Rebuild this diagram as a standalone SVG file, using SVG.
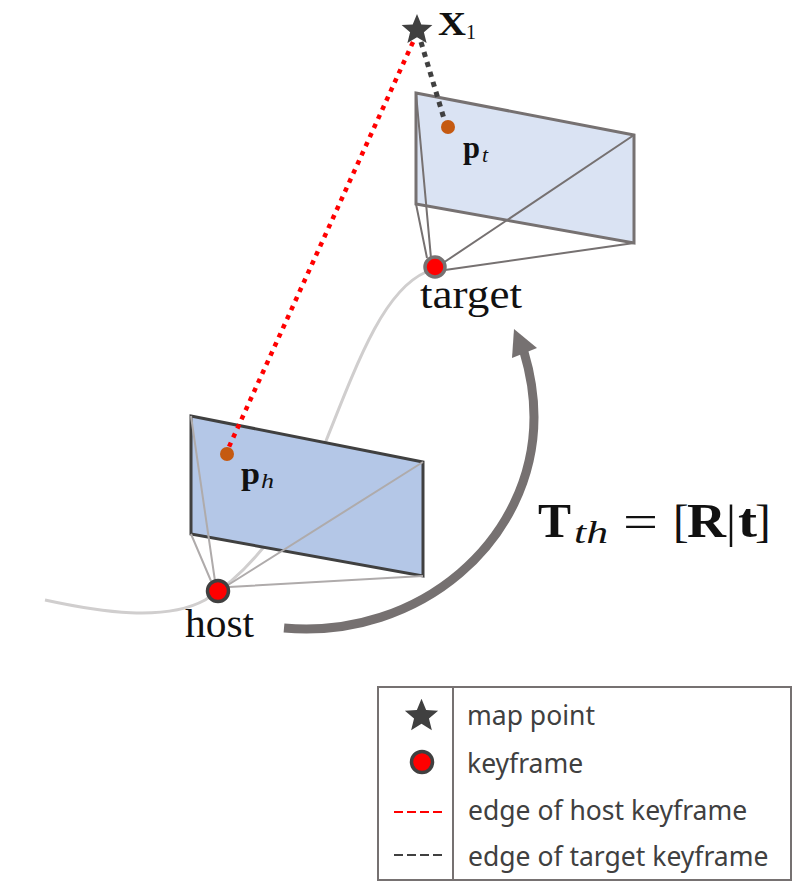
<svg xmlns="http://www.w3.org/2000/svg" width="797" height="890" viewBox="0 0 797 890">
<style>
.m{font-family:"Liberation Serif","Times New Roman",serif;fill:#111}
.b{font-weight:bold}
.i{font-style:italic}
.l{font-family:"Noto Sans","Open Sans",sans-serif;font-size:26.500px;fill:#404040}
.kf{fill:#f00;stroke-width:3.500}
.ray-t{stroke:#767171;stroke-width:2;fill:none}
.ray-h{stroke:#afabab;stroke-width:2;fill:none}
.pt{fill:#c55a11}
</style>
<defs>
<polygon id="star" points="0,-16 4.300,-5.600 15.400,-4.900 6.900,2.300 9.600,13.100 0,7.200 -9.600,13.100 -6.900,2.300 -15.400,-4.900 -4.300,-5.600" fill="#404040"/>
</defs>
<g id="connectors">
<path id="trajectory" d="M45,600 C100,612 165,622 205,600 C255,570 300,505 326,441 C360,355 385,290 426,272" fill="none" stroke="#d0cece" stroke-width="3"/>
</g>
<g id="target-frame">
<polygon points="416,93 634,135 634,243 416,204" fill="#dae3f3" stroke="#767171" stroke-width="3"/>
<path class="ray-t" d="M416,93 L431,258 M416,204 L427,258 M634,135 L443,263 M634,243 L445,270"/>
<circle class="kf" cx="435" cy="267" r="10" stroke="#767171"/>
<text class="m" x="420" y="308" font-size="40" textLength="102" lengthAdjust="spacingAndGlyphs">target</text>
</g>
<g id="host-frame">
<polygon points="191,416 423,462 423,576 191,534" fill="#b4c7e7" stroke="#404040" stroke-width="3"/>
<path class="ray-h" d="M191,416 L215,581 M191,534 L211,581 M423,462 L228,585 M423,576 L229,587"/>
<circle class="kf" cx="218" cy="591" r="10.500" stroke="#404040"/>
<text class="m" x="185" y="637" font-size="40" textLength="69" lengthAdjust="spacingAndGlyphs">host</text>
</g>
<g id="edges">
<line x1="413" y1="42" x2="228" y2="449" stroke="#f00" stroke-width="4.500" stroke-dasharray="4.500 5.500"/>
<line x1="421" y1="42" x2="445" y2="122" stroke="#404040" stroke-width="5" stroke-dasharray="5.200 5.200"/>
</g>
<g id="map-point">
<use href="#star" x="417" y="30"/>
<text class="m b" x="438" y="35" font-size="33" textLength="28" lengthAdjust="spacingAndGlyphs">X</text>
<text class="m" x="466" y="39" font-size="20">1</text>
</g>
<g id="point-t">
<circle class="pt" cx="448" cy="127" r="7"/>
<text class="m b" x="463" y="158" font-size="32" textLength="17" lengthAdjust="spacingAndGlyphs">p</text>
<text class="m i" x="482" y="162" font-size="22">t</text>
</g>
<g id="point-h">
<circle class="pt" cx="227" cy="454" r="7"/>
<text class="m b" x="241" y="484" font-size="32" textLength="19" lengthAdjust="spacingAndGlyphs">p</text>
<text class="m i" x="261" y="488" font-size="22" textLength="13" lengthAdjust="spacingAndGlyphs">h</text>
</g>
<g id="transform">
<path d="M284,628 C420,640 534,540 534,417 C534,395 530,372 524,352" fill="none" stroke="#767171" stroke-width="9"/>
<polygon points="514,329 537,348 512,358" fill="#767171"/>
<text class="m b" x="538" y="537" font-size="49" textLength="33" lengthAdjust="spacingAndGlyphs">T</text>
<text class="m i" x="574" y="543" font-size="31" textLength="34" lengthAdjust="spacingAndGlyphs">th</text>
<text class="m" x="623" y="537" font-size="47" textLength="35" lengthAdjust="spacingAndGlyphs">=</text>
<text class="m" x="673" y="537" font-size="47">[</text>
<text class="m b" x="687" y="537" font-size="49" textLength="39" lengthAdjust="spacingAndGlyphs">R</text>
<text class="m" x="726" y="537" font-size="47" textLength="10" lengthAdjust="spacingAndGlyphs">|</text>
<text class="m b" x="738" y="537" font-size="49" textLength="19" lengthAdjust="spacingAndGlyphs">t</text>
<text class="m" x="755" y="537" font-size="47">]</text>
</g>
<g id="legend">
<rect x="378" y="687" width="413" height="193" fill="#fff" stroke="#767171" stroke-width="2"/>
<line x1="453" y1="687" x2="453" y2="880" stroke="#767171" stroke-width="2"/>
<use href="#star" transform="translate(421.500 716) scale(1.080)"/>
<circle class="kf" cx="422" cy="762" r="10.500" stroke="#404040"/>
<line x1="394" y1="812" x2="443" y2="812" stroke="#f00" stroke-width="2" stroke-dasharray="9 4"/>
<line x1="394" y1="855" x2="443" y2="855" stroke="#404040" stroke-width="2" stroke-dasharray="9 4"/>
<text class="l" x="467" y="725">map point</text>
<text class="l" x="467" y="773">keyframe</text>
<text class="l" x="468" y="820">edge of host keyframe</text>
<text class="l" x="468" y="866">edge of target keyframe</text>
</g>
</svg>
